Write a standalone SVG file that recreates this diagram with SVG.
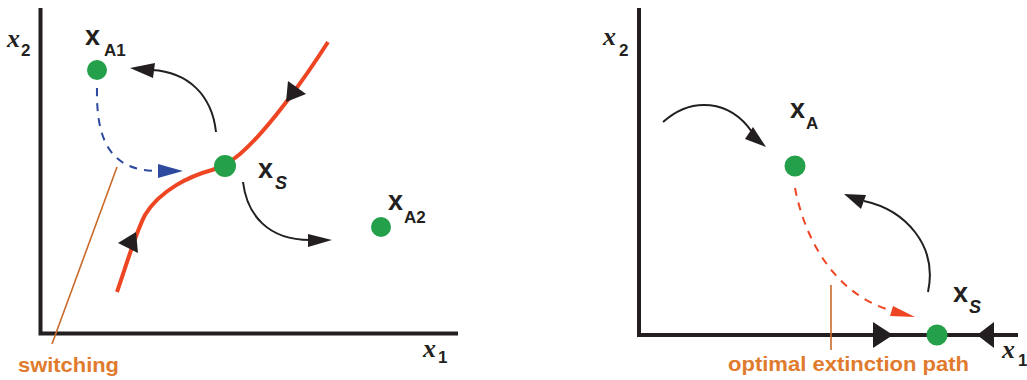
<svg xmlns="http://www.w3.org/2000/svg" width="1027" height="380" viewBox="0 0 1027 380">
<style>
.axis{stroke:#231f20;stroke-width:4;fill:none}
.sep{stroke:#ee4523;stroke-width:4;fill:none}
.flow{stroke:#231f20;stroke-width:2;fill:none}
.head{fill:#231f20}
.pt{fill:#25a04a}
.lead{stroke:#c86a2a;stroke-width:1.6}
.ax{font-family:"Liberation Serif",serif;font-style:italic;font-weight:bold;font-size:26px;fill:#231f20}
.bx{font-family:"Liberation Sans",sans-serif;font-weight:bold;font-size:27px;fill:#231f20}
.sub{font-family:"Liberation Sans",sans-serif;font-weight:bold;font-size:17px;fill:#231f20}
.subi{font-family:"Liberation Sans",sans-serif;font-weight:bold;font-style:italic;font-size:18px;fill:#231f20}
.lab{font-family:"Liberation Sans",sans-serif;font-weight:bold;font-size:21px;fill:#e07b2e}
</style>
<g id="left-axes">
<path class="axis" d="M40.5,8 V333.5 H458"/>
<text class="ax" x="7" y="47">x</text><text class="sub" x="21" y="56">2</text>
<text class="ax" x="423" y="357">x</text><text class="sub" x="438" y="363">1</text>
</g>
<g id="connectors-left">
<path class="sep" d="M328,42 C305,78 268,130 240,154 C230,162 225,166 212,170 C190,176 160,190 145,215 C136,232 128,260 117,292"/>
<polygon class="head" points="288,81 306,94 286,102"/>
<polygon class="head" points="118,243 136,232 138,253"/>
<path class="flow" d="M216,132 C212,95 188,72 152,70"/>
<polygon class="head" points="130,68 155,63 153,78"/>
<path d="M97,88 C96,140 110,171 158,171" fill="none" stroke="#2e4a9e" stroke-width="2" stroke-dasharray="8,7"/>
<polygon points="183,171 158,164 158,178" fill="#2e4a9e"/>
<path class="flow" d="M243,182 C247,215 268,240 310,240"/>
<polygon class="head" points="332,240 308,234 308,247"/>
<line class="lead" x1="117" y1="167" x2="52" y2="344"/>
</g>
<g id="xA1"><circle class="pt" cx="97" cy="70" r="10"/><text class="bx" x="85" y="45">x</text><text class="sub" x="104" y="56">A1</text></g>
<g id="xS-left"><circle class="pt" cx="225" cy="166" r="11"/><text class="bx" x="258" y="178">x</text><text class="subi" x="275" y="189">S</text></g>
<g id="xA2"><circle class="pt" cx="381" cy="227" r="10"/><text class="bx" x="388" y="210">x</text><text class="sub" x="404" y="223">A2</text></g>
<g id="switching"><text class="lab" x="18" y="372" textLength="101" lengthAdjust="spacingAndGlyphs">switching</text></g>

<g id="right-axes">
<path class="axis" d="M639,8 V335 H1018"/>
<text class="ax" x="603" y="45">x</text><text class="sub" x="619" y="56">2</text>
<text class="ax" x="1002" y="358">x</text><text class="sub" x="1018" y="366">1</text>
</g>
<g id="connectors-right">
<polygon class="head" points="873,322 893,335 873,348"/>
<polygon class="head" points="977,335 994,322 994,348"/>
<path class="flow" d="M663,122 C692,96 730,100 752,132"/>
<polygon class="head" points="766,147 753,127 745,139"/>
<path d="M795,188 C805,240 835,295 893,311" fill="none" stroke="#ee4523" stroke-width="2" stroke-dasharray="8,7"/>
<polygon points="915,317 893,306 890,316" fill="#ee4523"/>
<path class="flow" d="M928,292 C938,245 905,210 864,201"/>
<polygon class="head" points="844,194 866,195 861,209"/>
<line class="lead" x1="831" y1="285" x2="831" y2="350"/>
</g>
<g id="xA"><circle class="pt" cx="795" cy="166" r="10.5"/><text class="bx" x="790" y="118">x</text><text class="sub" x="806" y="129">A</text></g>
<g id="xS-right"><circle class="pt" cx="937" cy="335" r="10.5"/><text class="bx" x="953" y="302">x</text><text class="subi" x="969" y="313">S</text></g>
<g id="optimal-path"><text class="lab" x="728" y="371" textLength="241" lengthAdjust="spacingAndGlyphs">optimal extinction path</text></g>
</svg>
